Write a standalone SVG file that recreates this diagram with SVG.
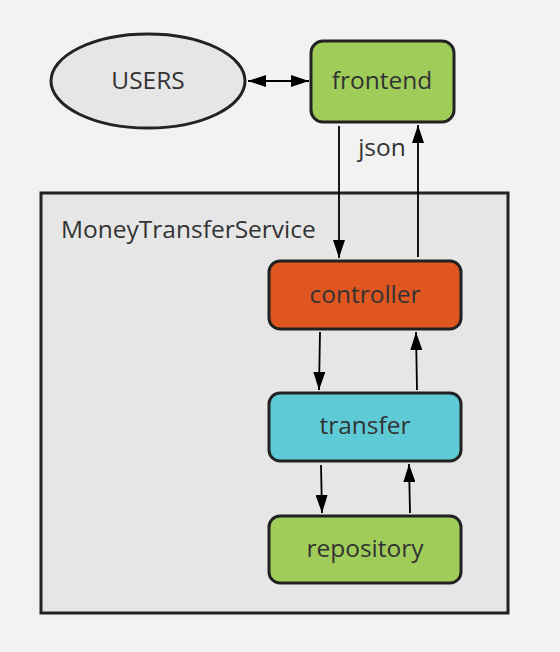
<svg xmlns="http://www.w3.org/2000/svg" width="560" height="652" viewBox="0 0 560 652">
<style>
.node{stroke:#222;stroke-width:3}
.lbl{font-family:"Open Sans","Liberation Sans",sans-serif;font-size:24.5px;fill:#333;text-anchor:middle;dominant-baseline:central}
.edge{stroke:#000;stroke-width:1.8;fill:none}
</style>
<defs>
<marker id="ah" viewBox="0 0 18 12" refX="18" refY="6" markerWidth="18" markerHeight="12" markerUnits="userSpaceOnUse" orient="auto-start-reverse">
<path d="M0,0 L18,6 L0,12 Z" fill="#000"/>
</marker>
</defs>
<rect width="560" height="652" fill="#f2f2f2"/>
<g id="service">
<rect x="41" y="193" width="467" height="420" fill="#e6e6e6" stroke="#222" stroke-width="3"/>
<text x="61" y="228" class="lbl" style="text-anchor:start">MoneyTransferService</text>
</g>
<g id="users">
<ellipse cx="148" cy="81" rx="97" ry="47" fill="#e6e6e6" class="node"/>
<text x="148" y="79" class="lbl">USERS</text>
</g>
<g id="frontend">
<rect x="311" y="41" width="143" height="81" rx="12" fill="#a0cd5a" class="node"/>
<text x="382" y="79" class="lbl">frontend</text>
</g>
<g id="controller">
<rect x="269" y="261" width="192" height="68" rx="11" fill="#e05620" class="node"/>
<text x="365" y="293" class="lbl">controller</text>
</g>
<g id="transfer">
<rect x="269" y="393" width="192" height="68" rx="11" fill="#5ecad6" class="node"/>
<text x="365" y="424" class="lbl">transfer</text>
</g>
<g id="repository">
<rect x="269" y="516" width="192" height="67" rx="11" fill="#a0cd5a" class="node"/>
<text x="365" y="547" class="lbl">repository</text>
</g>
<g id="connectors">
<line x1="248" y1="81" x2="309" y2="81" class="edge" marker-start="url(#ah)" marker-end="url(#ah)"/>
<line x1="339" y1="126" x2="339" y2="258" class="edge" marker-end="url(#ah)"/>
<line x1="418" y1="257" x2="418" y2="125" class="edge" marker-end="url(#ah)"/>
<text x="382" y="146" class="lbl">json</text>
<line x1="320" y1="332" x2="319" y2="390" class="edge" marker-end="url(#ah)"/>
<line x1="417" y1="390" x2="416" y2="332" class="edge" marker-end="url(#ah)"/>
<line x1="321" y1="465" x2="322" y2="513" class="edge" marker-end="url(#ah)"/>
<line x1="410" y1="513" x2="409" y2="464" class="edge" marker-end="url(#ah)"/>
</g>
</svg>
